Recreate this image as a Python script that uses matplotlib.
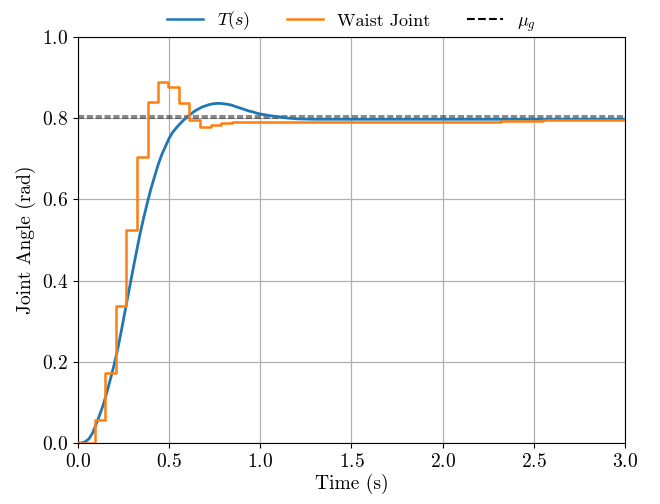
import numpy as np
import matplotlib
matplotlib.use("Agg")
import matplotlib.pyplot as plt
from matplotlib.lines import Line2D

plt.rcParams['font.family'] = 'serif'
plt.rcParams['font.serif'] = ['cmr10']
plt.rcParams['mathtext.fontset'] = 'cm'
plt.rcParams['axes.formatter.use_mathtext'] = True
plt.rcParams['font.size'] = 14

# T(s) response
t_model = [0.00, 0.02, 0.04, 0.06, 0.08, 0.10, 0.12, 0.14, 0.16, 0.18,
           0.20, 0.22, 0.24, 0.26, 0.28, 0.30, 0.32, 0.34, 0.36, 0.38,
           0.40, 0.42, 0.44, 0.46, 0.48, 0.50, 0.52, 0.54, 0.56, 0.58,
           0.60, 0.62, 0.64, 0.66, 0.68, 0.70, 0.72, 0.74, 0.76, 0.78,
           0.80, 0.82, 0.84, 0.86, 0.88, 0.90, 0.92, 0.94, 0.96, 0.98,
           1.00, 1.05, 1.10, 1.15, 1.20, 1.30, 1.50, 2.00, 2.50, 3.00]
y_model = [0.000, 0.000, 0.003, 0.010, 0.024, 0.046, 0.070, 0.095, 0.127, 0.160,
           0.195, 0.235, 0.280, 0.328, 0.375, 0.422, 0.468, 0.513, 0.553, 0.590,
           0.625, 0.655, 0.685, 0.710, 0.730, 0.750, 0.765, 0.776, 0.786, 0.795,
           0.803, 0.810, 0.817, 0.822, 0.827, 0.830, 0.833, 0.835, 0.836, 0.836,
           0.835, 0.834, 0.832, 0.829, 0.826, 0.823, 0.820, 0.817, 0.815, 0.812,
           0.810, 0.806, 0.803, 0.800, 0.798, 0.797, 0.797, 0.797, 0.797, 0.797]

# waist joint samples (zero-order hold)
t_joint = [0.000, 0.093, 0.151, 0.209, 0.266, 0.324, 0.382, 0.440, 0.495,
           0.552, 0.608, 0.671, 0.729, 0.787, 0.844, 2.320, 2.550, 3.000]
y_joint = [0.000, 0.057, 0.172, 0.338, 0.525, 0.704, 0.839, 0.889, 0.877,
           0.838, 0.796, 0.779, 0.783, 0.789, 0.791, 0.793, 0.794, 0.794]

mu_lines = [0.805, 0.799]

fig = plt.figure(figsize=(6.6, 5.04), dpi=100)
ax = fig.add_axes([0.118, 0.121, 0.829, 0.806])

ax.plot(t_model, y_model, color='#1f77b4', lw=2.0, zorder=3)
ax.plot(t_joint, y_joint, color='#ff7f0e', lw=1.8, drawstyle='steps-post', zorder=4)
for m in mu_lines:
    ax.axhline(m, color='k', ls='--', lw=1.2, alpha=0.55, zorder=2)

ax.set_xlim(0, 3)
ax.set_ylim(0, 1)
ax.set_xticks(np.arange(0, 3.01, 0.5))
ax.set_yticks(np.arange(0, 1.01, 0.2))
ax.grid(True, color='#b0b0b0', lw=0.9)
ax.set_xlabel('Time (s)', labelpad=2)
ax.set_ylabel('Joint Angle (rad)')

handles = [Line2D([], [], color='#1f77b4', lw=1.8),
           Line2D([], [], color='#ff7f0e', lw=1.8),
           Line2D([], [], color='k', ls='--', lw=1.5)]
labels = ['$T(s)$', 'Waist Joint', r'$\mu_g$']
ax.legend(handles, labels, loc='lower center', bbox_to_anchor=(0.5, 0.99),
          ncol=3, frameon=False, fontsize=13, columnspacing=2.0, borderaxespad=0)

fig.savefig('out.png', dpi=100)
